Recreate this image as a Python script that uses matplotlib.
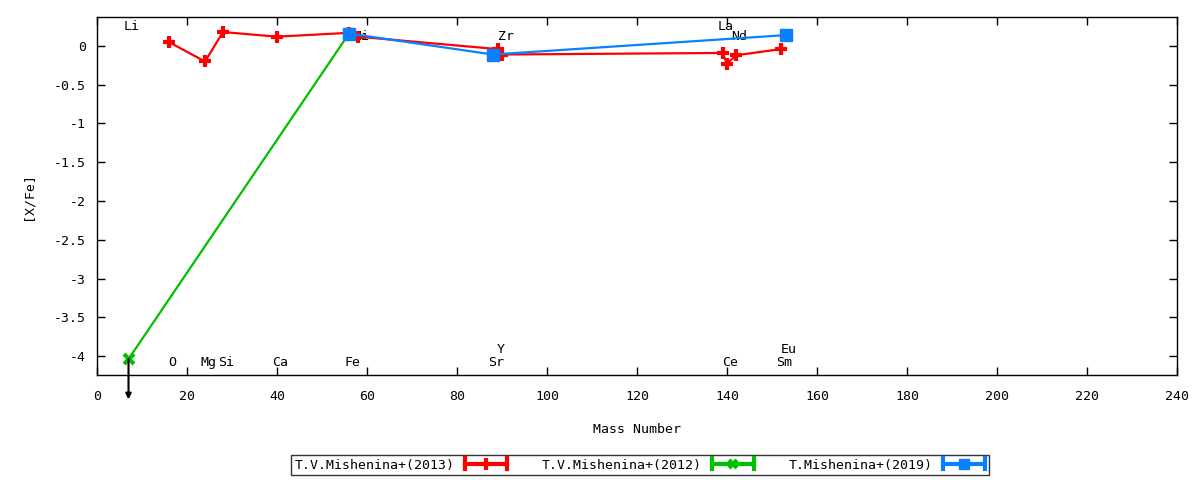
import matplotlib
matplotlib.use("Agg")
import matplotlib.pyplot as plt
from matplotlib.legend_handler import HandlerBase
from matplotlib.lines import Line2D

# ---- data ----
red_mass = [16, 24, 28, 40, 56, 58, 89, 90, 139, 140, 142, 152]
red_val = [0.05, -0.20, 0.18, 0.12, 0.17, 0.12, -0.04, -0.11, -0.09, -0.23, -0.12, -0.04]
green_mass = [7, 56]
green_val = [-4.04, 0.16]
blue_mass = [56, 88, 153]
blue_val = [0.16, -0.11, 0.14]
series_labels = ["T.V.Mishenina+(2013)", "T.V.Mishenina+(2012)", "T.Mishenina+(2019)"]

elem_top = ["Li", "Ni", "Zr", "La", "Nd"]
elem_top_mass = [7, 58, 90, 139, 142]
elem_top_row = [1, 0, 0, 1, 0]
elem_bot = ["O", "Mg", "Si", "Ca", "Fe", "Sr", "Y", "Ce", "Sm", "Eu"]
elem_bot_mass = [16, 24, 28, 40, 56, 88, 89, 140, 152, 153]
elem_bot_row = [0, 0, 0, 0, 0, 0, 1, 0, 0, 1]

upper_limit_mass = [7]
upper_limit_val = [-4.04]

xticks = list(range(0, 241, 20))
yticks = [0, -0.5, -1, -1.5, -2, -2.5, -3, -3.5, -4]
ytick_labels = ["0", "-0.5", "-1", "-1.5", "-2", "-2.5", "-3", "-3.5", "-4"]

# ---- style ----
plt.rcParams['font.family'] = ['DejaVu Sans Mono']
FS = 9.5
RED, GREEN, BLUE = '#ff0000', '#00c000', '#0a80ff'

fig = plt.figure(figsize=(12, 4.8), dpi=100)
ax = fig.add_axes([97/1200, 1 - 375/480, (1177-97)/1200, (375-17)/480])

ax.plot(green_mass, green_val, color=GREEN, lw=1.6, marker='x', ms=7, mew=3, zorder=3)
ax.plot(red_mass, red_val, color=RED, lw=1.6, marker='+', ms=9, mew=3, zorder=4)
ax.plot(blue_mass, blue_val, color=BLUE, lw=1.6, marker='s', ms=8, zorder=5)

for m, v in zip(upper_limit_mass, upper_limit_val):
    ax.annotate('', xy=(m, v - 0.52), xytext=(m, v), annotation_clip=False,
                arrowprops=dict(arrowstyle='-|>', color='black', lw=1.5,
                                mutation_scale=8, shrinkA=0, shrinkB=0), zorder=6)

top_levels = [0.116, 0.245]
bot_levels = [-4.09, -3.91]
for n, m, r in zip(elem_top, elem_top_mass, elem_top_row):
    ax.text(m + 0.8, top_levels[r], n, ha='center', va='center', fontsize=FS)
for n, m, r in zip(elem_bot, elem_bot_mass, elem_bot_row):
    ax.text(m + 0.8, bot_levels[r], n, ha='center', va='center', fontsize=FS)

ax.set_xlim(0, 240)
ax.set_ylim(-4.245, 0.374)
ax.set_xticks(xticks)
ax.set_xticklabels([str(t) for t in xticks], fontsize=FS)
ax.set_yticks(yticks)
ax.set_yticklabels(ytick_labels, fontsize=FS)
ax.tick_params(axis='x', direction='in', top=True, length=6, width=1, pad=11)
ax.tick_params(axis='y', direction='in', right=True, length=6, width=1, pad=8)
for s in ax.spines.values():
    s.set_linewidth(1)
ax.set_xlabel("Mass Number", fontsize=FS, labelpad=14)
ax.set_ylabel("[X/Fe]", fontsize=FS, labelpad=14)


class CapHandler(HandlerBase):
    def __init__(self, color, marker, ms, mew):
        super().__init__()
        self.color, self.marker, self.ms, self.mew = color, marker, ms, mew

    def create_artists(self, legend, orig_handle, xdescent, ydescent, width, height, fontsize, trans):
        y = height / 2 - ydescent
        x0, x1 = -xdescent, -xdescent + width
        line = Line2D([x0, x1], [y, y], color=self.color, lw=3, transform=trans)
        c1 = Line2D([x0, x0], [y - 4, y + 4], color=self.color, lw=3, transform=trans)
        c2 = Line2D([x1, x1], [y - 4, y + 4], color=self.color, lw=3, transform=trans)
        mk = Line2D([(x0 + x1) / 2], [y], color=self.color, marker=self.marker, ms=self.ms,
                    mew=self.mew, lw=0, transform=trans)
        return [line, c1, c2, mk]


h1 = Line2D([], [], color=RED)
h2 = Line2D([], [], color=GREEN)
h3 = Line2D([], [], color=BLUE)
leg = fig.legend([h1, h2, h3], series_labels, loc='center', bbox_to_anchor=(640/1200, 1 - 465/480),
                 ncol=3, markerfirst=False, frameon=True, fancybox=False, fontsize=FS,
                 handlelength=3.2, handletextpad=0.8, columnspacing=2.6, borderpad=0.25,
                 borderaxespad=0,
                 handler_map={h1: CapHandler(RED, '+', 8, 3),
                              h2: CapHandler(GREEN, 'x', 6, 3),
                              h3: CapHandler(BLUE, 's', 7, 1)})
leg.get_frame().set_edgecolor('black')
leg.get_frame().set_linewidth(1)

fig.savefig("out.png", dpi=100)
